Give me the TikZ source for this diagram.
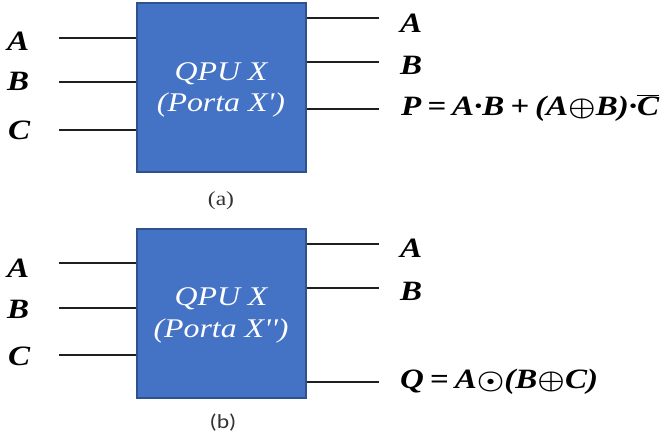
\documentclass[tikz,border=0pt]{standalone}
\usepackage{fontspec}
\setmainfont{Liberation Serif}
\newfontfamily\capfont{Carlito}
% text in this figure is set slightly wide
\newcommand{\hstretch}[1]{\scalebox{1.18}[1]{#1}}
% bold circled operators
\newcommand{\bigop}[1]{\scalebox{1.05}{\boldmath$#1$}}
\newcommand{\gap}{\hspace{0.18em}}
\definecolor{qpufill}{HTML}{4472C4}
\definecolor{qpuedge}{HTML}{2F528F}
\definecolor{wire}{HTML}{1F1F1F}

\begin{document}
\begin{tikzpicture}[x=1pt,y=-1pt,
  qpu/.style={draw=qpuedge, line width=1.5pt, fill=qpufill,
    minimum width=169pt, minimum height=169pt, inner sep=0pt},
  wireline/.style={draw=wire, line width=1.8pt},
  sig/.style={anchor=base west, inner sep=0pt,
    font=\fontsize{28}{32}\selectfont\bfseries\itshape},
  boxtxt/.style={anchor=base, inner sep=0pt, text=white,
    font=\fontsize{27}{30}\selectfont\itshape},
  captxt/.style={anchor=base, inner sep=0pt, text=black!80,
    font=\fontsize{20}{22}\selectfont}]
\useasboundingbox (0,0) rectangle (670,437);

% ---------- (a) Porta X' ----------
\node[qpu] (qa) at (221.5,87.5) {};
\node[boxtxt] (qa1) at (221,80) {\hstretch{QPU X}};
\node[boxtxt] (qa2) at (221,111) {\hstretch{(Porta X\textquotesingle)}};

\coordinate (ia1) at (59,38);
\coordinate (ia2) at (59,82);
\coordinate (ia3) at (59,130);
\draw[wireline] (ia1) -- (ia1 -| qa.west);
\draw[wireline] (ia2) -- (ia2 -| qa.west);
\draw[wireline] (ia3) -- (ia3 -| qa.west);
\node[sig] (la1) at (7,50) {\hstretch{A}};
\node[sig] (la2) at (7,90) {\hstretch{B}};
\node[sig] (la3) at (8,139) {\hstretch{C}};

\coordinate (oa1) at (379,18);
\coordinate (oa2) at (379,62);
\coordinate (oa3) at (379,109);
\draw[wireline] (oa1 -| qa.east) -- (oa1);
\draw[wireline] (oa2 -| qa.east) -- (oa2);
\draw[wireline] (oa3 -| qa.east) -- (oa3);
\node[sig] (ra1) at (400,32) {\hstretch{A}};
\node[sig] (ra2) at (400,74) {\hstretch{B}};
\node[sig] (ra3) at (401,115) {\hstretch{P\gap=\gap A·B\gap+\gap(A\bigop{\oplus}B)·$\overline{\mbox{C}}$}};

\node[captxt] (capa) at (221,205) {\hstretch{(a)}};

% ---------- (b) Porta X'' ----------
\node[qpu] (qb) at (221.5,313.5) {};
\node[boxtxt] (qb1) at (221,305) {\hstretch{QPU X}};
\node[boxtxt] (qb2) at (221,337) {\hstretch{(Porta X\textquotesingle\textquotesingle)}};

\coordinate (ib1) at (59,263);
\coordinate (ib2) at (59,308);
\coordinate (ib3) at (59,355);
\draw[wireline] (ib1) -- (ib1 -| qb.west);
\draw[wireline] (ib2) -- (ib2 -| qb.west);
\draw[wireline] (ib3) -- (ib3 -| qb.west);
\node[sig] (lb1) at (7,277) {\hstretch{A}};
\node[sig] (lb2) at (7,318) {\hstretch{B}};
\node[sig] (lb3) at (8,365) {\hstretch{C}};

\coordinate (ob1) at (379,244);
\coordinate (ob2) at (379,288);
\coordinate (ob3) at (379,382);
\draw[wireline] (ob1 -| qb.east) -- (ob1);
\draw[wireline] (ob2 -| qb.east) -- (ob2);
\draw[wireline] (ob3 -| qb.east) -- (ob3);
\node[sig] (rb1) at (400,257) {\hstretch{A}};
\node[sig] (rb2) at (400,300) {\hstretch{B}};
\node[sig] (rb3) at (400,388) {\hstretch{Q\gap=\gap A\bigop{\odot}(B\bigop{\oplus}C)}};

\node[captxt] (capb) at (223,428) {\hstretch{\capfont (b)}};
\end{tikzpicture}
\end{document}
